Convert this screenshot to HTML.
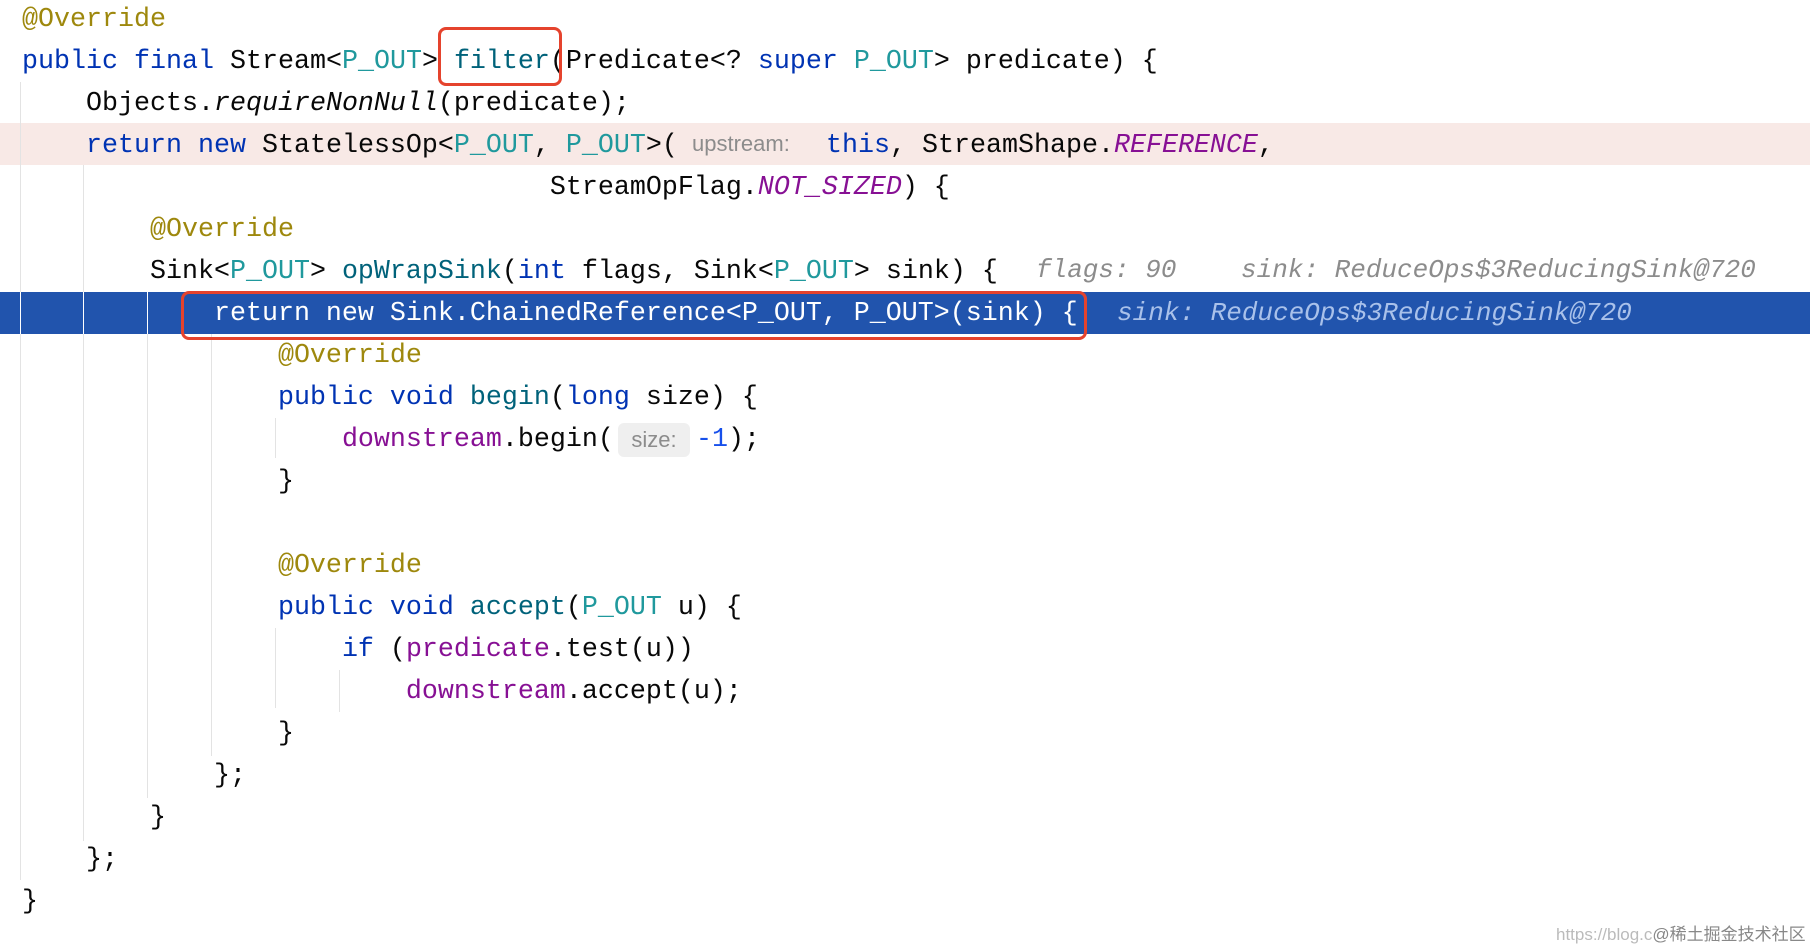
<!DOCTYPE html>
<html><head><meta charset="utf-8"><style>
body{margin:0;width:1810px;height:950px;background:#fff;position:relative;overflow:hidden;font-family:"Liberation Mono",monospace;}
.l{position:absolute;left:22px;height:42px;line-height:42px;font-size:26.67px;white-space:pre;color:#080808;}
.k{color:#0033b3}.a{color:#9e880d}.t{color:#20999d}.f{color:#871094}.i{font-style:italic}.m{color:#00627a}.n{color:#1750eb}
.h{position:absolute;font-size:26px;font-style:italic;color:#8c8c8c;height:42px;line-height:42px;white-space:pre;font-family:"Liberation Mono",monospace}
.hs{font-family:"Liberation Sans",sans-serif;font-size:22px;color:#8c8c8c;font-style:normal}
.g{position:absolute;width:1px;background:#e3e3e3}
.box{position:absolute;border:3.5px solid #e5432d;border-radius:8px;box-sizing:border-box}
</style></head><body>
<div style="position:absolute;left:0;top:123px;width:1810px;height:42px;background:#f8e9e6"></div>
<div style="position:absolute;left:0;top:292px;width:1810px;height:42px;background:#2154ad"></div>
<div class="g" style="left:20px;top:82px;height:798px"></div>
<div class="g" style="left:83px;top:165px;height:676px"></div>
<div class="g" style="left:147px;top:292px;height:506px"></div>
<div class="g" style="left:211px;top:334px;height:422px"></div>
<div class="g" style="left:275px;top:418px;height:40px"></div>
<div class="g" style="left:275px;top:628px;height:80px"></div>
<div class="g" style="left:339px;top:670px;height:42px"></div>
<div class="g" style="left:20px;top:292px;height:42px;background:#fff"></div>
<div class="g" style="left:83px;top:292px;height:42px;background:#fff"></div>
<div class="g" style="left:147px;top:292px;height:42px;background:#fff"></div>

<div class="l a" style="top:-1px">@Override</div>
<div class="l" style="top:41px"><span class="k">public final</span> Stream&lt;<span class="t">P_OUT</span>&gt; <span class="m">filter</span>(Predicate&lt;? <span class="k">super</span> <span class="t">P_OUT</span>&gt; predicate) {</div>
<div class="l" style="top:83px">    Objects.<span class="i">requireNonNull</span>(predicate);</div>
<div class="l" style="top:125px">    <span class="k">return new</span> StatelessOp&lt;<span class="t">P_OUT</span>, <span class="t">P_OUT</span>&gt;(</div>
<span class="h hs" style="left:692px;top:123px">upstream:</span>
<div class="l" style="top:125px;left:826px"><span class="k">this</span>, StreamShape.<span class="f i">REFERENCE</span>,</div>
<div class="l" style="top:167px">                                 StreamOpFlag.<span class="f i">NOT_SIZED</span>) {</div>
<div class="l a" style="top:209px">        @Override</div>
<div class="l" style="top:251px">        Sink&lt;<span class="t">P_OUT</span>&gt; <span class="m">opWrapSink</span>(<span class="k">int</span> flags, Sink&lt;<span class="t">P_OUT</span>&gt; sink) {</div>
<span class="h" style="left:1036px;top:249px">flags: 90</span>
<span class="h" style="left:1241px;top:249px">sink: ReduceOps$3ReducingSink@720</span>
<div class="l" style="top:293px;color:#fff">            return new Sink.ChainedReference&lt;P_OUT, P_OUT&gt;(sink) {</div>
<span class="h" style="left:1117px;top:292px;color:#a9c1ea">sink: ReduceOps$3ReducingSink@720</span>
<div class="l a" style="top:335px">                @Override</div>
<div class="l" style="top:377px">                <span class="k">public void</span> <span class="m">begin</span>(<span class="k">long</span> size) {</div>
<div class="l" style="top:419px">                    <span class="f">downstream</span>.begin(</div>
<span style="position:absolute;left:618px;top:423px;width:72px;height:34px;background:#efefef;border-radius:6px;font-family:'Liberation Sans',sans-serif;font-size:22px;color:#8c8c8c;line-height:34px;text-align:center">size:</span>
<div class="l" style="top:419px;left:696px"><span class="n">-1</span>);</div>
<div class="l" style="top:461px">                }</div>
<div class="l a" style="top:545px">                @Override</div>
<div class="l" style="top:587px">                <span class="k">public void</span> <span class="m">accept</span>(<span class="t">P_OUT</span> u) {</div>
<div class="l" style="top:629px">                    <span class="k">if</span> (<span class="f">predicate</span>.test(u))</div>
<div class="l" style="top:671px">                        <span class="f">downstream</span>.accept(u);</div>
<div class="l" style="top:713px">                }</div>
<div class="l" style="top:755px">            };</div>
<div class="l" style="top:797px">        }</div>
<div class="l" style="top:839px">    };</div>
<div class="l" style="top:881px">}</div>

<div class="box" style="left:438px;top:27px;width:124px;height:59px"></div>
<div class="box" style="left:181px;top:291px;width:906px;height:49px"></div>
<div style="position:absolute;left:1556px;top:920px;font-family:'Liberation Sans','Noto Sans CJK SC',sans-serif;font-size:17px;color:#bbb;white-space:nowrap">https://blog.c<span style="color:#888">@稀土掘金技术社区</span></div>
</body></html>
